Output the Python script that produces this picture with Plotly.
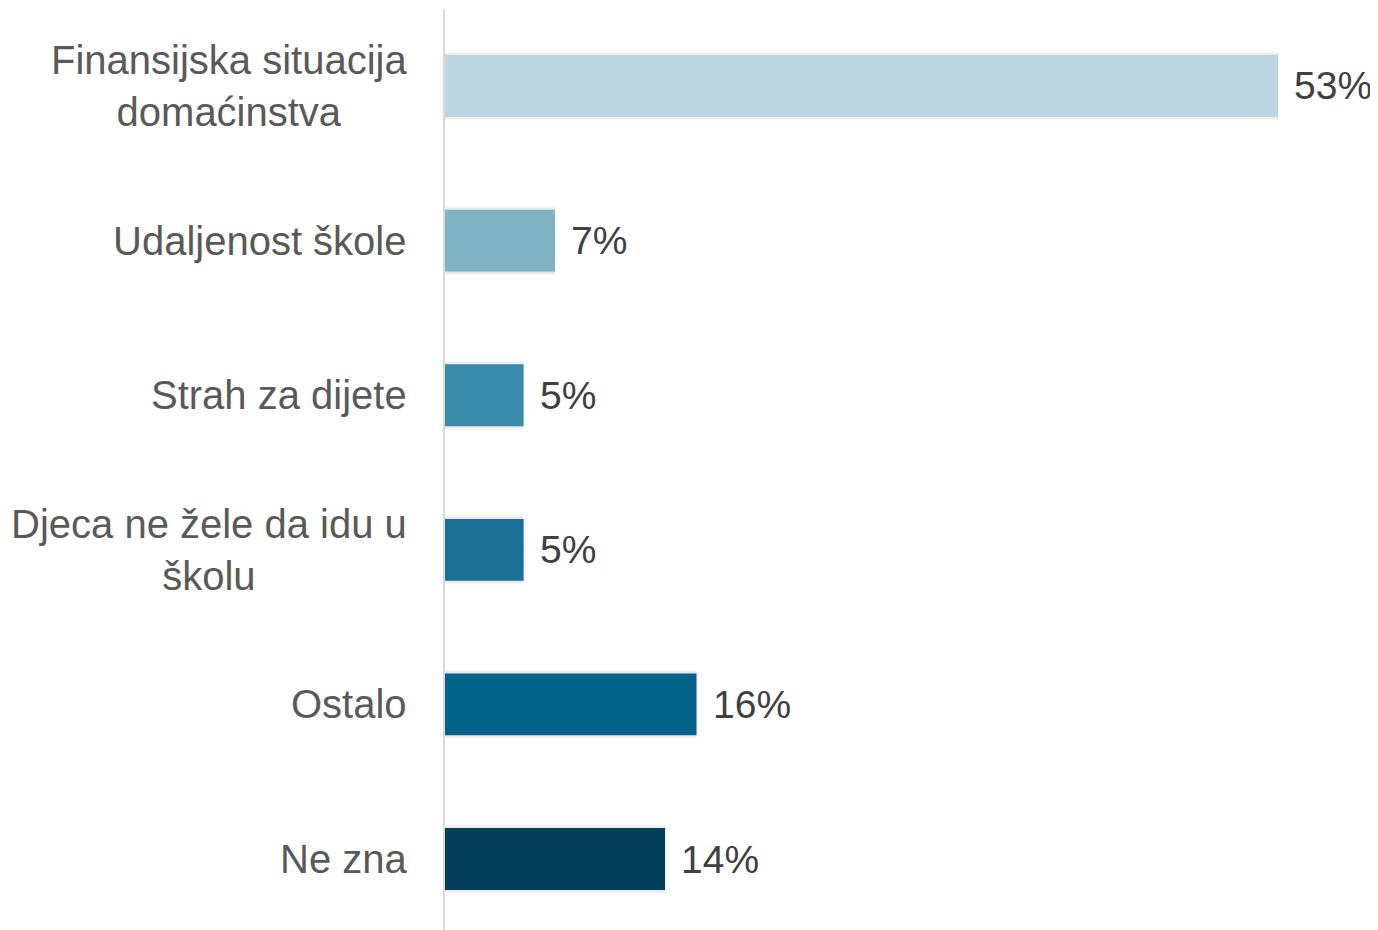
import plotly.graph_objects as go

categories = ["Finansijska situacija<br>domaćinstva", "Udaljenost škole", "Strah za dijete",
              "Djeca ne žele da idu u<br>školu", "Ostalo", "Ne zna"]
values = [53, 7, 5, 5, 16, 14]
value_labels = ["53%", "7%", "5%", "5%", "16%", "14%"]
colors = ["#BDD5E0", "#7EB4C4", "#3A8BA9", "#1A7097", "#03628A", "#033F59"]

FONT = "Liberation Sans"

fig = go.Figure()
# soft shadow layers behind the bars
for w, a in [(0.445, 0.035), (0.425, 0.05)]:
    fig.add_trace(go.Bar(
        x=values, y=categories, orientation="h",
        marker=dict(color=f"rgba(0,0,0,{a})", line=dict(width=0)),
        width=w, hoverinfo="skip",
    ))
fig.add_trace(go.Bar(
    x=values, y=categories, orientation="h",
    marker=dict(color=colors, line=dict(width=0)),
    width=0.4, hoverinfo="skip",
))

annotations = []
for c, v, t in zip(categories, values, value_labels):
    annotations.append(dict(x=v, y=c, xref="x", yref="y", text=t, showarrow=False,
                            xanchor="left", xshift=14,
                            font=dict(family=FONT, size=39, color="#404040")))
    annotations.append(dict(x=0, y=c, xref="paper", yref="y", text=c, showarrow=False,
                            xanchor="right", xshift=-36, align="center",
                            font=dict(family=FONT, size=40, color="#595959")))

fig.update_layout(
    width=1370, height=922,
    margin=dict(l=437, r=0, t=1, b=0),
    paper_bgcolor="white", plot_bgcolor="white",
    showlegend=False, barmode="overlay",
    xaxis=dict(range=[0, 59.35], showgrid=False, zeroline=False, showticklabels=False,
               showline=False),
    yaxis=dict(range=[5.459, -0.498], showgrid=False, zeroline=False, showticklabels=False,
               showline=True, linecolor="#D9D9D9", linewidth=2, ticks=""),
    annotations=annotations,
    font=dict(family=FONT),
)

fig.write_html("out.html")
